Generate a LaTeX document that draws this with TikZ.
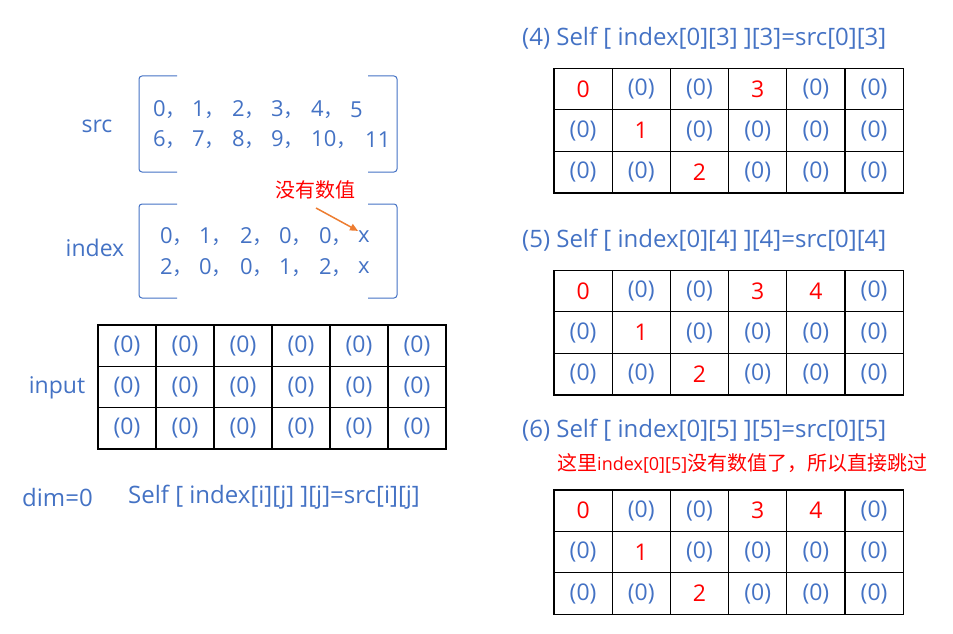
\documentclass[tikz,border=0pt]{standalone}
\usepackage{fontspec}
\setmainfont{Open Sans}
\newfontfamily\cjk{Noto Sans CJK SC}
\usetikzlibrary{positioning,arrows.meta}
\definecolor{txtblue}{HTML}{4472C4}
\definecolor{arrorange}{HTML}{ED7D31}
\newcommand{\hl}[1]{\textcolor{red}{#1}}
\newcommand{\z}{(0)}
\newcommand{\cm}{{\cjk\fontsize{20}{24}\selectfont ，}}
\newcommand{\zh}[1]{{\cjk\fontsize{20}{24}\selectfont #1}}

\begin{document}
\begin{tikzpicture}[x=1pt,y=-1pt,
	every node/.style={font=\fontsize{23}{27}\selectfont, text=txtblue, inner sep=0pt},
	cell/.style={draw=black, line width=1.2pt, minimum width=58.1pt, minimum height=41.4pt},
	brk/.style={draw=txtblue, line width=1pt, rounded corners=3pt},
	entry/.style={anchor=west, font=\fontsize{22}{26}\selectfont},
	title/.style={anchor=west, font=\fontsize{24}{28}\selectfont},
	note/.style={text=red, font=\fontsize{18}{22}\selectfont}]
	\useasboundingbox (0,0) rectangle (953,634);

	% src
	\node (srclbl) at (97,126) {src};
	\draw[brk] (177,76) -- (139,76) -- (139,172) -- (177,172);
	\draw[brk] (368,76) -- (397,76) -- (397,172) -- (368,172);
	\foreach \v/\x [count=\c] in {0\cm/153,1\cm/192,2\cm/232,3\cm/271,4\cm/311,5/350}
		\node[entry] (src-1-\c) at (\x,110) {\v};
	\foreach \v/\x [count=\c] in {6\cm/153,7\cm/192,8\cm/232,9\cm/271,10\cm/311,11/365}
		\node[entry] (src-2-\c) at (\x,140) {\v};

	% index
	\node (idxlbl) at (95,248) {index};
	\draw[brk] (177,204) -- (139,204) -- (139,298) -- (177,298);
	\draw[brk] (368,204) -- (397,204) -- (397,298) -- (368,298);
	\foreach \v/\x [count=\c] in {0\cm/160,1\cm/199,2\cm/240,0\cm/279,0\cm/319,x/358}
		\node[entry] (idx-1-\c) at (\x,237) {\v};
	\foreach \v/\x [count=\c] in {2\cm/160,0\cm/199,0\cm/240,1\cm/279,2\cm/319,x/358}
		\node[entry] (idx-2-\c) at (\x,268) {\v};
	\node[note] (nodata) at (315,190) {\zh{没有数值}};
	\coordinate (arrstart) at (316,208);
	\draw[arrorange, line width=1.5pt, -{Triangle[length=8pt,width=7pt]}] (arrstart) -- (idx-1-6.north west);

	% input
	\node (inlbl) at (57,388) {input};
	\foreach \r/\row in {1/{\z,\z,\z,\z,\z,\z}, 2/{\z,\z,\z,\z,\z,\z}, 3/{\z,\z,\z,\z,\z,\z}}
		\foreach \v [count=\c] in \row
			\node[cell] (in-\r-\c) at ({98+(\c-0.5)*58},{325+(\r-0.5)*41.3}) {\v};
	\node[title] (dim) at (22,497) {dim=0};
	\node[title] (rule) at (128,497) {Self [ index[i][j] ][j]=src[i][j]};

	% step 4
	\node[title] (t4) at (522,38) {(4) Self [ index[0][3] ][3]=src[0][3]};
	\foreach \r/\row in {1/{\hl{0},\z,\z,\hl{3},\z,\z}, 2/{\z,\hl{1},\z,\z,\z,\z}, 3/{\z,\z,\hl{2},\z,\z,\z}}
		\foreach \v [count=\c] in \row
			\node[cell] (a-\r-\c) at ({554+(\c-0.5)*58.2},{68+(\r-0.5)*41.7}) {\v};

	% step 5
	\node[title] (t5) at (522,240) {(5) Self [ index[0][4] ][4]=src[0][4]};
	\foreach \r/\row in {1/{\hl{0},\z,\z,\hl{3},\hl{4},\z}, 2/{\z,\hl{1},\z,\z,\z,\z}, 3/{\z,\z,\hl{2},\z,\z,\z}}
		\foreach \v [count=\c] in \row
			\node[cell] (b-\r-\c) at ({554+(\c-0.5)*58.2},{270+(\r-0.5)*41.7}) {\v};

	% step 6
	\node[title] (t6) at (522,430) {(6) Self [ index[0][5] ][5]=src[0][5]};
	\node[anchor=west, note] (skip) at (557,463) {\zh{这里}index[0][5]\zh{没有数值了，所以直接跳过}};
	\foreach \r/\row in {1/{\hl{0},\z,\z,\hl{3},\hl{4},\z}, 2/{\z,\hl{1},\z,\z,\z,\z}, 3/{\z,\z,\hl{2},\z,\z,\z}}
		\foreach \v [count=\c] in \row
			\node[cell] (c-\r-\c) at ({554+(\c-0.5)*58.2},{490+(\r-0.5)*41.4}) {\v};
\end{tikzpicture}
\end{document}
